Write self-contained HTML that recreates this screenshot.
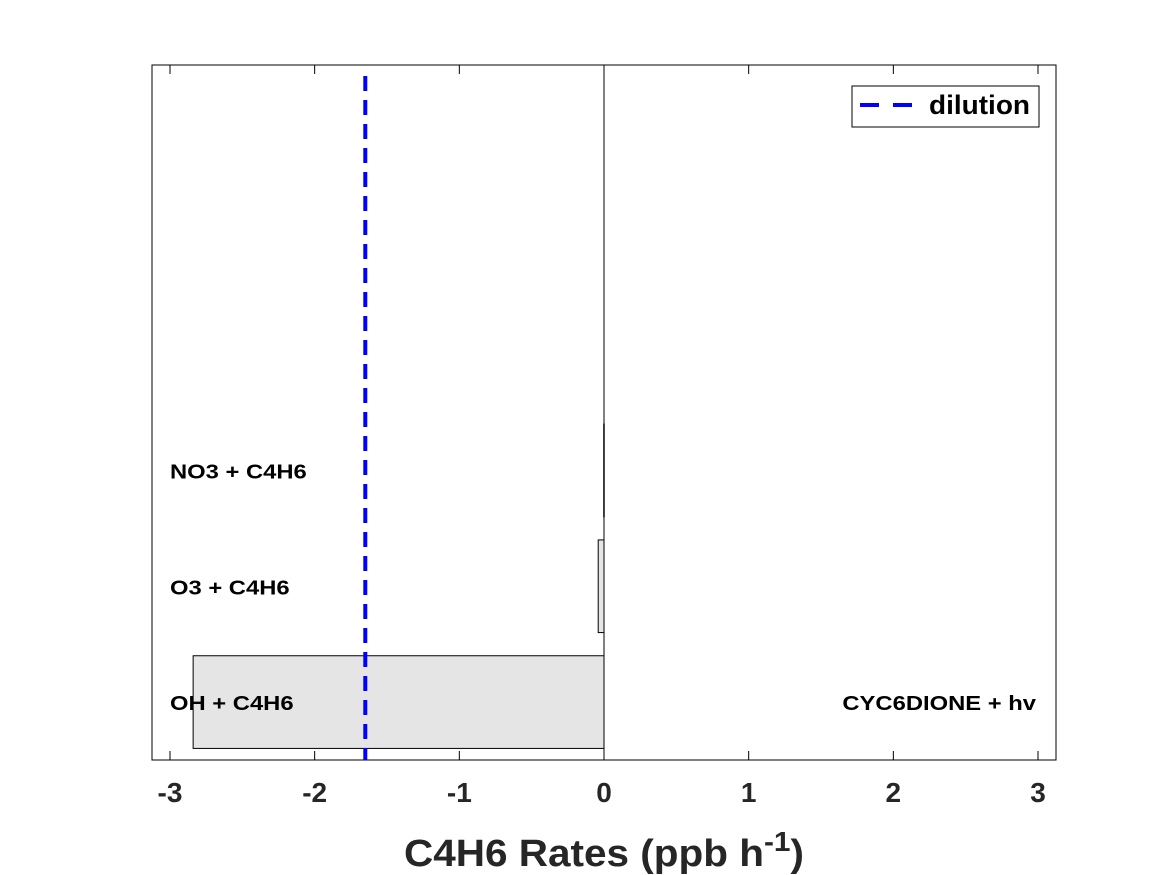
<!DOCTYPE html>
<html><head><meta charset="utf-8"><style>body{margin:0;background:#fff}svg{display:block;font-family:"Liberation Sans",sans-serif}</style></head>
<body>
<svg id="chart" width="1167" height="875">
<rect x="0" y="0" width="1167" height="875" fill="#fff"/>
<g id="plot"></g>
</svg>
<script>
const negLabels = ["OH + C4H6", "O3 + C4H6", "NO3 + C4H6"];
const negValues = [-2.84, -0.04, -0.002];
const posLabels = ["CYC6DIONE + hv"];
const posValues = [0.0];
const dilution = -1.65;
const xTicks = [-3, -2, -1, 0, 1, 2, 3];
const nSlots = 6;

const L = 152, R = 1056, T = 65, B = 760;
const x = v => 604 + v * 144.67;
const slotH = (B - T) / nSlots;
const yc = i => B - slotH * (i + 0.5);
const NS = "http://www.w3.org/2000/svg";
const g = document.getElementById('plot');
function mk(tag, attrs, text) {
  const e = document.createElementNS(NS, tag);
  for (const k in attrs) e.setAttribute(k, attrs[k]);
  if (text !== undefined) e.textContent = text;
  g.appendChild(e);
  return e;
}
function fitText(e) {
  e.setAttribute('textLength', (e.getComputedTextLength() * 1.16).toFixed(1));
  e.setAttribute('lengthAdjust', 'spacingAndGlyphs');
}
let e;
e = mk('rect', {x: L, y: T, width: R - L, height: B - T, fill: 'none', stroke: '#000', 'stroke-width': 1});


negValues.forEach((v, i) => {
  const bh = slotH * 0.8;
  e = mk('rect', {x: x(v), y: yc(i) - bh / 2, width: Math.max(x(0) - x(v), 0.5), height: bh, fill: '#e5e5e5', stroke: '#000', 'stroke-width': 1});
  
  
  e = mk('text', {x: 170, y: yc(i) + 8, 'font-size': 20.5, 'font-weight': 'bold'}, negLabels[i]);
  
  
  fitText(e);
});
posValues.forEach((v, i) => {
  const bh = slotH * 0.8;
  if (v > 0) {
    e = mk('rect', {x: x(0), y: yc(i) - bh / 2, width: x(v) - x(0), height: bh, fill: '#e5e5e5', stroke: '#000'});
    
    
  }
  e = mk('text', {x: 1036, y: yc(i) + 8, 'font-size': 20.5, 'font-weight': 'bold', 'text-anchor': 'end'}, posLabels[i]);
  
  
  fitText(e);
});
e = mk('line', {x1: x(0), x2: x(0), y1: T, y2: B, stroke: '#000', 'stroke-width': 1});


e = mk('line', {x1: x(dilution), x2: x(dilution), y1: 76, y2: B, stroke: '#0000ff', 'stroke-width': 4, 'stroke-dasharray': '15,9'});


xTicks.forEach(t => {
  e = mk('line', {x1: x(t), x2: x(t), y1: B, y2: B - 9, stroke: '#000'});
  
  
  e = mk('line', {x1: x(t), x2: x(t), y1: T, y2: T + 9, stroke: '#000'});
  
  
  e = mk('text', {x: x(t), y: 802, 'font-size': 28, 'font-weight': 'bold', 'text-anchor': 'middle', fill: '#262626'}, String(t));
  
  
});
e = mk('text', {x: 604, y: 866, 'font-size': 38, 'font-weight': 'bold', 'text-anchor': 'middle', fill: '#262626', textLength: 400, lengthAdjust: 'spacingAndGlyphs'});
e.innerHTML = 'C4H6 Rates (ppb h<tspan dy="-15" font-size="28">-1</tspan><tspan dy="15">)</tspan>';


e = mk('rect', {x: 852, y: 86, width: 187, height: 41, fill: '#fff', stroke: '#000'});


e = mk('line', {x1: 860, x2: 912, y1: 105, y2: 105, stroke: '#0000ff', 'stroke-width': 4, 'stroke-dasharray': '19,14'});


e = mk('text', {x: 929, y: 114, 'font-size': 27, 'font-weight': 'bold', textLength: 101, lengthAdjust: 'spacingAndGlyphs'}, 'dilution');


</script>
</body></html>
